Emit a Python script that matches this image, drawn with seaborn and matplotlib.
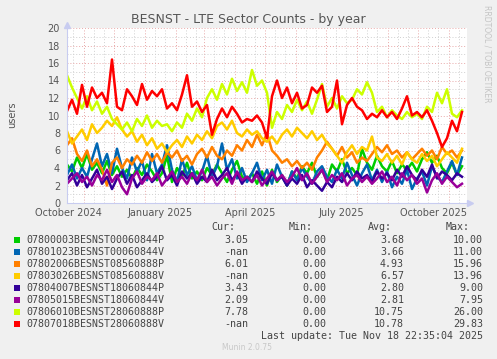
import pandas as pd
import matplotlib
matplotlib.use("Agg")
import matplotlib.pyplot as plt
import matplotlib.dates as mdates
from matplotlib.ticker import MultipleLocator
from matplotlib.patches import Rectangle
import seaborn as sns

# ---------------- data ----------------
names = ["07800003BESNST00060844P", "07801023BESNST00060844V",
         "07802006BESNST08560888P", "07803026BESNST08560888V",
         "07804007BESNST18060844P", "07805015BESNST18060844V",
         "07806010BESNST28060888P", "07807018BESNST28060888V"]
colors = ["#00CC00", "#0066B3", "#FF8000", "#FFCC00",
          "#330099", "#990099", "#CCFF00", "#FF0000"]

cur_vals = ["3.05", "-nan", "6.01", "-nan", "3.43", "2.09", "7.78", "-nan"]
min_vals = ["0.00"] * 8
avg_vals = ["3.68", "3.66", "4.93", "6.57", "2.80", "2.81", "10.75", "10.78"]
max_vals = ["10.00", "11.00", "15.96", "13.96", "9.00", "7.95", "26.00", "29.83"]

last_update = pd.Timestamp("2025-11-18 22:35:04")
start = last_update - pd.Timedelta(days=400)
dates = pd.date_range(start, periods=80, freq="5D")

green = [4.4, 3.6, 5.2, 4.0, 5.6, 3.8, 4.6, 3.4, 4.8, 3.2, 4.2, 3.0, 3.8, 2.8, 4.0, 3.2,
         4.4, 3.6, 2.6, 3.4, 5.4, 2.4, 4.0, 3.0, 4.6, 2.8, 3.6, 2.6, 4.0, 3.2, 4.4, 3.4,
         2.4, 3.8, 4.8, 3.0, 2.6, 3.4, 2.2, 3.6, 2.0, 3.8, 2.4, 3.2, 2.0, 3.6, 2.8, 4.2,
         3.4, 4.6, 3.0, 3.8, 2.6, 4.4, 3.6, 5.0, 3.4, 4.0, 3.2, 6.2, 4.6, 3.8, 5.4, 4.2,
         3.6, 4.8, 3.4, 4.4, 3.8, 4.6, 3.6, 5.0, 5.8, 4.6, 5.4, 4.0, 3.4, 4.6, 3.2, 4.2]
blue = [3.2, 4.4, 2.8, 4.0, 3.0, 5.0, 6.8, 4.2, 5.6, 3.4, 6.2, 4.0, 2.8, 5.2, 3.6, 4.8,
        2.6, 5.6, 3.4, 4.4, 6.6, 3.8, 2.4, 5.0, 3.2, 4.2, 2.6, 3.6, 5.4, 3.0, 4.2, 6.8,
        3.8, 5.0, 2.8, 4.0, 2.4, 3.4, 4.6, 2.6, 3.8, 2.2, 4.4, 3.0, 2.0, 3.6, 2.6, 4.0,
        3.0, 2.2, 3.6, 4.2, 3.0, 2.4, 3.8, 2.8, 4.6, 3.2, 2.0, 3.4, 4.4, 2.6, 3.8, 2.4,
        3.6, 1.8, 3.0, 2.2, 3.8, 1.6, 2.8, 3.6, 2.0, 4.2, 3.0, 2.4, 3.6, 4.8, 3.2, 5.2]
orange = [6.6, 7.4, 5.6, 4.8, 6.0, 4.2, 5.0, 3.8, 2.0, 4.6, 5.2, 4.0, 5.0, 4.4, 5.4, 4.6,
          5.8, 4.8, 5.6, 4.6, 5.8, 5.2, 6.0, 4.8, 5.4, 4.4, 5.6, 6.2, 5.2, 6.4, 5.4, 5.0,
          6.0, 5.4, 6.6, 6.0, 7.2, 6.4, 7.8, 6.6, 8.0, 6.0, 5.4, 4.6, 5.0, 4.2, 4.8, 4.0,
          4.6, 3.8, 5.2, 6.0, 7.0, 6.2, 5.4, 6.4, 5.2, 5.8, 4.6, 5.2, 4.8, 5.6, 6.4, 5.8,
          6.6, 5.6, 6.0, 5.2, 5.8, 5.0, 5.6, 6.2, 5.4, 6.0, 5.0, 6.4, 5.6, 6.0, 5.2, 6.0]
yellow = [8.2, 6.8, 7.6, 8.4, 7.2, 9.0, 8.0, 8.6, 9.4, 8.8, 9.8, 8.4, 7.6, 8.2, 7.0, 7.8,
          6.6, 7.4, 6.2, 6.8, 5.8, 6.6, 7.2, 6.4, 7.6, 6.8, 7.8, 7.2, 8.2, 7.4, 8.8, 9.2,
          8.4, 9.4, 8.0, 7.6, 8.4, 7.8, 8.2, 7.4, 7.0, 7.6, 6.8, 7.8, 8.4, 7.6, 8.6, 8.0,
          7.4, 8.2, 7.2, 7.8, 6.8, 6.2, 5.4, 4.6, 5.8, 6.6, 5.6, 6.4, 6.0, 7.6, 5.2, 4.8,
          5.6, 4.6, 5.4, 4.4, 5.8, 5.0, 4.6, 5.6, 4.8, 5.4, 4.2, 5.0, 5.8, 5.2, 4.6, 6.2]
darkblue = [2.6, 3.4, 2.0, 3.2, 1.8, 2.8, 3.8, 2.2, 3.0, 1.6, 2.8, 3.6, 2.2, 3.2, 1.8, 2.6,
            3.4, 2.4, 3.0, 4.2, 2.6, 3.2, 2.0, 3.6, 2.8, 3.4, 2.2, 3.0, 2.4, 3.8, 2.6, 3.2,
            4.0, 2.6, 3.4, 2.2, 3.0, 2.4, 3.6, 2.8, 2.2, 3.4, 2.6, 3.0, 2.0, 2.8, 2.2, 3.2,
            1.8, 2.6, 2.0, 1.4, 2.4, 1.8, 3.0, 2.4, 3.4, 2.6, 3.6, 2.8, 3.2, 2.4, 3.6, 2.8,
            3.4, 2.6, 3.8, 3.0, 4.2, 3.2, 2.6, 3.8, 3.0, 4.4, 2.8, 3.6, 3.2, 2.6, 3.4, 3.0]
purple = [2.2, 2.8, 3.4, 2.4, 3.0, 2.0, 3.2, 2.6, 3.8, 2.4, 3.2, 1.8, 1.0, 2.8, 3.6, 2.2,
          3.0, 2.6, 3.4, 2.0, 2.8, 3.6, 2.4, 3.0, 2.2, 3.4, 2.6, 3.8, 2.4, 3.0, 2.0, 2.8,
          3.4, 2.2, 3.6, 2.6, 3.0, 2.4, 3.2, 2.0, 2.8, 3.6, 2.6, 3.2, 2.4, 3.0, 4.0, 2.6,
          3.4, 2.2, 3.0, 3.8, 2.4, 3.2, 2.6, 3.4, 2.0, 2.8, 3.2, 2.4, 3.0, 2.2, 2.8, 3.6,
          2.4, 3.0, 2.0, 3.4, 2.6, 3.2, 2.2, 2.8, 1.2, 2.6, 3.4, 2.2, 3.0, 2.4, 1.8, 2.2]
lime = [14.6, 13.2, 12.0, 10.8, 12.2, 10.6, 11.6, 10.2, 11.0, 9.6, 9.0, 8.4, 9.2, 8.2, 9.6, 8.8,
        10.0, 8.6, 9.4, 8.8, 9.0, 8.2, 9.2, 8.6, 10.2, 9.4, 10.8, 9.8, 12.0, 13.0, 11.8, 13.6,
        12.4, 14.2, 12.8, 13.8, 12.6, 15.2, 13.4, 14.0, 12.6, 8.6, 10.4, 9.6, 11.2, 10.4, 11.8, 10.6,
        11.6, 10.2, 11.8, 13.6, 11.0, 12.0, 10.8, 12.2, 11.4, 11.8, 13.0, 12.4, 13.8, 12.6, 10.4, 11.0,
        9.8, 10.6, 10.0, 9.6, 10.4, 9.8, 10.2, 9.6, 11.0, 10.4, 12.6, 11.4, 13.0, 10.2, 9.8, 10.6]
red = [10.5, 11.8, 10.2, 13.5, 11.0, 13.2, 12.0, 12.6, 11.4, 16.4, 11.0, 10.6, 13.0, 12.2, 11.2, 13.6,
       11.8, 12.8, 12.2, 13.0, 10.8, 11.4, 10.6, 12.4, 14.6, 11.0, 11.6, 10.4, 11.2, 7.8, 9.6, 10.8,
       9.8, 11.0, 10.2, 9.2, 9.6, 9.4, 10.0, 9.2, 7.4, 12.2, 14.0, 12.0, 13.2, 11.4, 12.6, 10.8,
       11.2, 13.2, 12.6, 13.4, 10.4, 11.0, 14.0, 9.0, 11.2, 12.0, 11.0, 10.6, 9.6, 10.2, 9.8, 10.6,
       9.8, 10.4, 9.6, 10.8, 12.2, 10.0, 10.4, 9.8, 10.6, 9.4, 8.0, 6.4, 7.4, 9.4, 8.2, 10.4]

series = [green, blue, orange, yellow, darkblue, purple, lime, red]

df = pd.concat([pd.DataFrame({"date": dates, "users": vals, "sector": name})
                for name, vals in zip(names, series)], ignore_index=True)

# ---------------- figure ----------------
W, H = 497, 359
bg = "#F0F0F0"
txt = "#555555"

fig = plt.figure(figsize=(W / 100, H / 100), dpi=100, facecolor=bg)
ax = fig.add_axes([67 / W, 1 - 203 / H, 400 / W, 175 / H])
ax.set_facecolor("white")

sns.lineplot(data=df, x="date", y="users", hue="sector", hue_order=names,
             palette=dict(zip(names, colors)), linewidth=1.8, estimator=None,
             legend=False, ax=ax)

ax.set_xlim(start, last_update)
ax.set_ylim(0, 20)

# grid like rrdtool
ax.set_axisbelow(True)
ax.yaxis.set_major_locator(MultipleLocator(2))
ax.yaxis.set_minor_locator(MultipleLocator(1))
ax.xaxis.set_major_locator(mdates.MonthLocator())
ax.xaxis.set_minor_locator(mdates.DayLocator(bymonthday=[11, 21]))
ax.grid(which="major", color="#E8A8A8", linestyle=(0, (1, 2)), linewidth=0.7)
ax.grid(which="minor", color="#D0D0D0", linestyle=(0, (1, 2)), linewidth=0.7)

ax.tick_params(axis="x", which="both", length=0, labelbottom=False)
ax.tick_params(axis="y", which="both", length=0, pad=5, labelsize=7, labelcolor=txt)
ax.set_xlabel("")
ax.set_ylabel("")

for s in ["top", "right"]:
    ax.spines[s].set_visible(False)
for s in ["left", "bottom"]:
    ax.spines[s].set_color("#C8CCF0")
    ax.spines[s].set_linewidth(0.8)

# axis arrows
ax.plot(0, 1.02, marker="^", ms=4.5, color="#C8CCF0", transform=ax.transAxes, clip_on=False)
ax.plot(1.008, 0, marker=">", ms=4.5, color="#C8CCF0", transform=ax.transAxes, clip_on=False)

# month labels (rrdtool centres them mid-month)
month_labels = ["October 2024", "January 2025", "April 2025", "July 2025", "October 2025"]
label_dates = pd.to_datetime(["2024-10-16", "2025-01-16", "2025-04-16", "2025-07-16", "2025-10-16"])
for d, lab in zip(label_dates, month_labels):
    ax.text(d, -10.5 / 175, lab, transform=ax.get_xaxis_transform(), ha="center", va="center",
            fontsize=7, color=txt, clip_on=False)

fig.text(248 / W, 1 - 19 / H, "BESNST - LTE Sector Counts - by year", ha="center", va="center",
         fontsize=9, color=txt)
fig.text(12 / W, 1 - 115 / H, "users", rotation=90, ha="center", va="center", fontsize=7, color=txt)
fig.text(487 / W, 1 - 5 / H, "RRDTOOL / TOBI OETIKER", rotation=270, ha="center", va="top",
         fontsize=5.5, color="#C4C4C4")

# ---------------- legend ----------------
mono = dict(family="DejaVu Sans Mono", fontsize=7.2, color="#444444")
head_y = 227
for lab, xr in zip(["Cur:", "Min:", "Avg:", "Max:"], [235, 313, 392, 470]):
    fig.text(xr / W, 1 - head_y / H, lab, ha="right", va="center", **mono)

for i, name in enumerate(names):
    y = 240 + 12 * i
    fig.patches.append(Rectangle((14 / W, 1 - (y + 3) / H), 6 / W, 6 / H,
                                 transform=fig.transFigure, facecolor=colors[i],
                                 edgecolor="none"))
    fig.text(26 / W, 1 - y / H, name, ha="left", va="center", **mono)
    for val, xr in zip([cur_vals[i], min_vals[i], avg_vals[i], max_vals[i]], [248, 326, 404, 483]):
        fig.text(xr / W, 1 - y / H, val, ha="right", va="center", **mono)

fig.text(483 / W, 1 - 336 / H, "Last update: " + last_update.strftime("%a %b %d %H:%M:%S %Y"),
         ha="right", va="center", **mono)
fig.text(247 / W, 1 - 347 / H, "Munin 2.0.75", ha="center", va="center", fontsize=5.5, color="#C8C8C8")

fig.savefig("out.png", dpi=100, facecolor=bg)
